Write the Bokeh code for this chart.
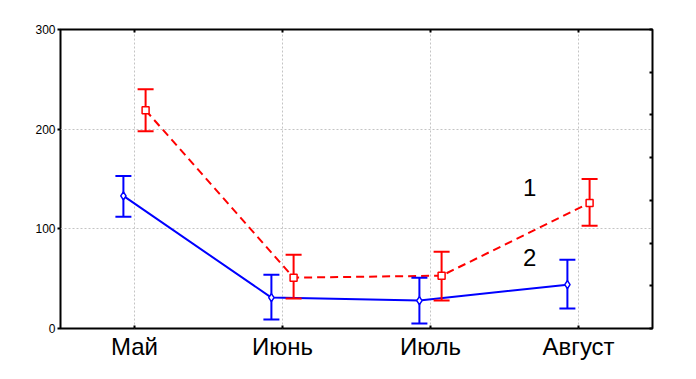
from bokeh.plotting import figure
from bokeh.models import (ColumnDataSource, FactorRange, CategoricalAxis, LinearAxis,
                          FixedTicker, Range1d, CustomJSTickFormatter)
from bokeh.transform import dodge
from bokeh.core.properties import value
from bokeh.embed import file_html
from bokeh.resources import INLINE

months = ["Май", "Июнь", "Июль", "Август"]
s1_mean = [219, 51, 53, 126]
s1_upper = [240, 74, 77, 150]
s1_lower = [198, 30, 28, 103]
s2_mean = [133, 31, 28, 44]
s2_upper = [153, 54, 51, 69]
s2_lower = [112, 9, 5, 20]
series_labels = ["1", "2"]
y_ticks = [0, 100, 200, 300]

FONT = "Liberation Sans"
RED = "#ff0000"
BLUE = "#0000ff"

p = figure(width=688, height=371,
           x_range=FactorRange(*months, range_padding=0),
           y_range=Range1d(0, 300),
           output_backend="svg", toolbar_location=None,
           min_border_left=60, min_border_right=36,
           min_border_top=29, min_border_bottom=43)

p.background_fill_color = "white"
p.border_fill_color = "white"
p.outline_line_color = "black"
p.outline_line_width = 2

# bottom axis
xa = p.xaxis[0]
xa.axis_line_color = None
xa.major_tick_in = 3
xa.major_tick_out = 0
xa.major_tick_line_width = 2
xa.major_label_text_font = FONT
xa.major_label_text_font_size = "24px"
xa.major_label_text_color = "black"
xa.major_label_standoff = 4

# left axis
ya = p.yaxis[0]
ya.ticker = FixedTicker(ticks=y_ticks)
ya.axis_line_color = None
ya.major_tick_in = 0
ya.major_tick_out = 3
ya.major_tick_line_width = 2
ya.minor_tick_line_color = None
ya.major_label_text_font = FONT
ya.major_label_text_font_size = "12px"
ya.major_label_text_color = "black"
ya.major_label_standoff = 2

blank = CustomJSTickFormatter(code="return ''")

# top axis
ta = CategoricalAxis(axis_line_color=None, major_tick_in=3, major_tick_out=0,
                     major_tick_line_width=2, formatter=blank,
                     major_label_standoff=0)
p.add_layout(ta, "above")

# right axis
ra = LinearAxis(ticker=FixedTicker(ticks=[300 * k / 7 for k in range(8)]),
                axis_line_color=None, major_tick_in=3, major_tick_out=0,
                major_tick_line_width=2, minor_tick_line_color=None,
                formatter=blank, major_label_standoff=0)
p.add_layout(ra, "right")

# grids
p.xgrid.grid_line_color = "#c4c4c4"
p.xgrid.grid_line_dash = "2 2"
p.ygrid.ticker = FixedTicker(ticks=y_ticks)
p.ygrid.grid_line_color = "#c4c4c4"
p.ygrid.grid_line_dash = "2 2"

src1 = ColumnDataSource(dict(m=months, mean=s1_mean, up=s1_upper, lo=s1_lower))
src2 = ColumnDataSource(dict(m=months, mean=s2_mean, up=s2_upper, lo=s2_lower))

x1 = dodge("m", 0.075, range=p.x_range)
x2 = dodge("m", -0.075, range=p.x_range)

p.line(x=x2, y="mean", source=src2, line_color=BLUE, line_width=2)
p.line(x=x1, y="mean", source=src1, line_color=RED, line_width=2, line_dash="8 5")

for xx, src, col in ((x2, src2, BLUE), (x1, src1, RED)):
    p.segment(x0=xx, y0="lo", x1=xx, y1="up", source=src, line_color=col, line_width=2)
    p.scatter(x=xx, y="up", source=src, marker="dash", size=16, line_color=col, line_width=2)
    p.scatter(x=xx, y="lo", source=src, marker="dash", size=16, line_color=col, line_width=2)

p.scatter(x=x2, y="mean", source=src2, marker="diamond", size=8,
          fill_color="white", line_color=BLUE, line_width=1.5)
p.scatter(x=x1, y="mean", source=src1, marker="square", size=7,
          fill_color="white", line_color=RED, line_width=1.5)

lab = ColumnDataSource(dict(m=[months[-1], months[-1]], y=[141, 71], t=series_labels))
p.text(x=dodge("m", -0.33, range=p.x_range), y="y", text="t", source=lab,
       text_font=value(FONT), text_font_size="24px", text_color="black",
       text_align="center", text_baseline="middle")

open("out.html", "w").write(file_html(p, INLINE))
